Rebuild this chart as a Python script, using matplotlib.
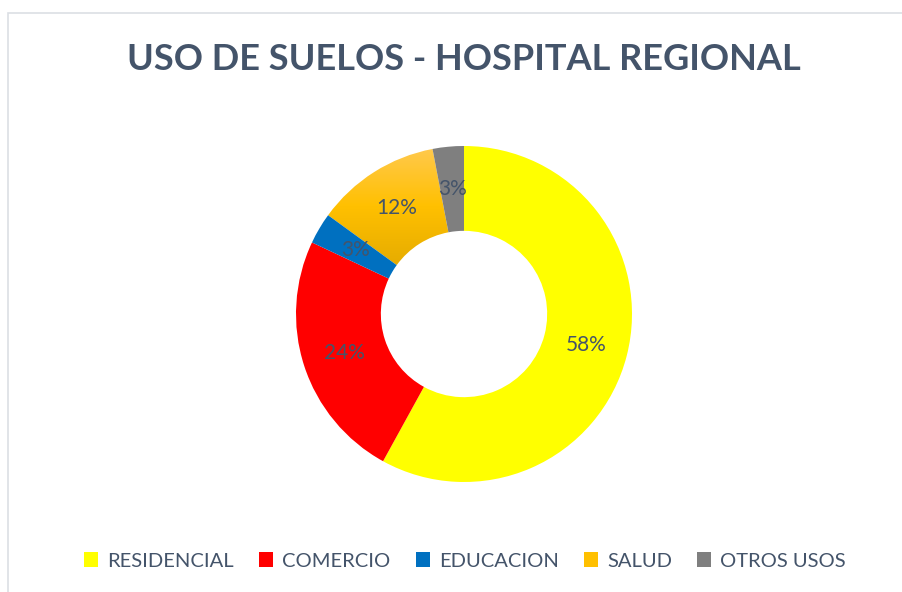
import numpy as np
import matplotlib.pyplot as plt
from matplotlib.patches import Rectangle
from matplotlib.colors import LinearSegmentedColormap

categorias = ['RESIDENCIAL', 'COMERCIO', 'EDUCACION', 'SALUD', 'OTROS USOS']
porcentajes = [58, 24, 3, 12, 3]
colores = ['#FFFF00', '#FF0000', '#0070C0', '#FFC000', '#7F7F7F']

texto = '#44546A'
plt.rcParams['font.family'] = ['Lato', 'DejaVu Sans']

fig = plt.figure(figsize=(9.03, 5.92), dpi=100)

# marco gris claro del grafico
fig.patches.append(Rectangle((8 / 903, -0.1), 1.2, 1.1 - 13 / 592,
                             transform=fig.transFigure, fill=False,
                             edgecolor='#DCDFE4', linewidth=1.2))

ax = fig.add_axes([296 / 903, 110 / 592, 336 / 903, 336 / 592])
wedges, textos, autotextos = ax.pie(
    porcentajes, colors=colores, startangle=90, counterclock=False,
    radius=1, wedgeprops=dict(width=0.505, edgecolor='none'),
    autopct='%1.0f%%', pctdistance=0.75,
    textprops=dict(color=texto, fontsize=15))
ax.axis('off')

# degradado en SALUD
salud = wedges[categorias.index('SALUD')]
salud.set_facecolor('none')
bb = salud.get_path().get_extents()
grad = np.linspace(0, 1, 256).reshape(-1, 1)
cmap = LinearSegmentedColormap.from_list('salud', ['#E6AC00', '#FFC000', '#FFC94D'])
im = ax.imshow(grad, cmap=cmap, origin='lower', aspect='auto',
               extent=[bb.x0, bb.x1, bb.y0, bb.y1], zorder=0.5)
im.set_clip_path(salud)
ax.set_xlim(-1, 1)
ax.set_ylim(-1, 1)

fig.text(464 / 903, 1 - 60 / 592, 'USO DE SUELOS - HOSPITAL REGIONAL',
         ha='center', va='center', fontsize=26, fontweight='bold', color=texto)

fig.legend(wedges, categorias, loc='center', ncol=5,
           bbox_to_anchor=(465 / 903, 1 - 561 / 592), frameon=False,
           handlelength=0.7, handleheight=0.7, handletextpad=0.45,
           columnspacing=1.25, prop=dict(size=14.5), labelcolor=texto)
leg = fig.legends[0]
leg.legend_handles[categorias.index('SALUD')].set_facecolor('#FFC000')

fig.savefig('out.png', dpi=100)
